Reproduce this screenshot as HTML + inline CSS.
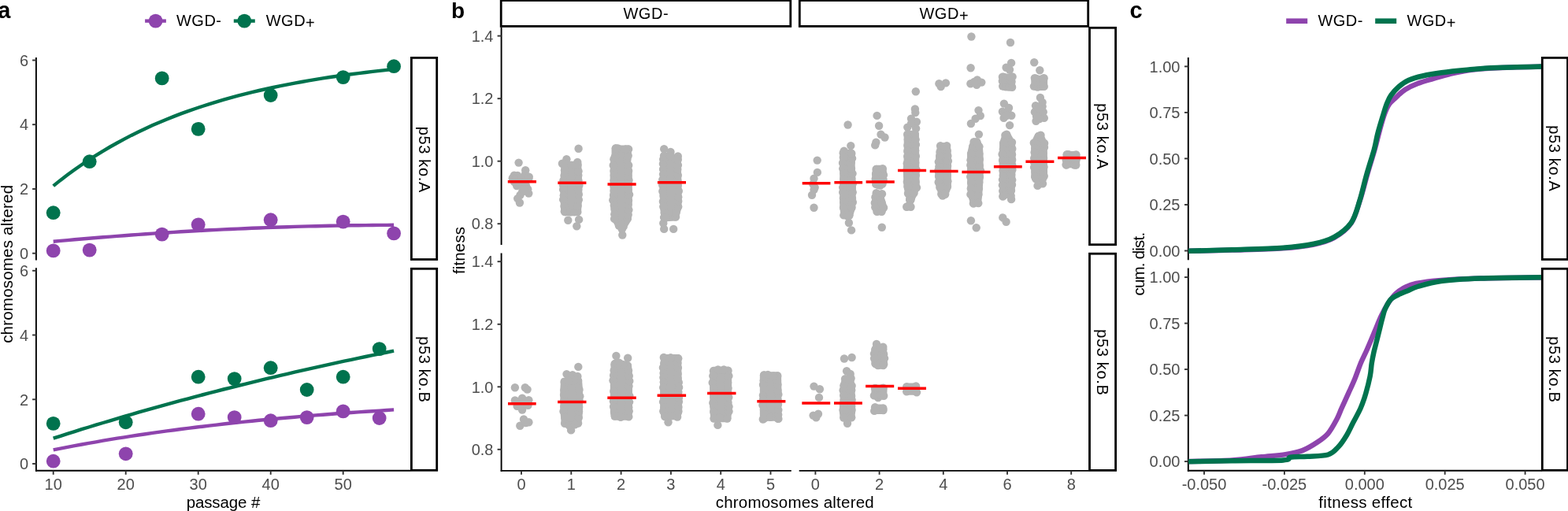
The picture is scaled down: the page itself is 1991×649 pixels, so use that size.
<!DOCTYPE html>
<html><head><meta charset="utf-8"><title>figure</title>
<style>html,body{margin:0;padding:0;background:#fff;overflow:hidden}svg{display:block}text{font-family:'Liberation Sans', Arial, sans-serif}</style>
</head><body>
<svg width="1991" height="649" viewBox="0 0 1991 649">
<rect width="1991" height="649" fill="#fff"/>
<text x="-2.8" y="22.8" font-size="29" text-anchor="start" fill="#000" font-weight="bold">a</text>
<text x="573" y="22.6" font-size="28" text-anchor="start" fill="#000" font-weight="bold">b</text>
<text x="1434.5" y="22.8" font-size="29" text-anchor="start" fill="#000" font-weight="bold">c</text>
<line x1="184.1" y1="26.6" x2="210.9" y2="26.6" stroke="#8E44AD" stroke-width="4.4" stroke-linecap="butt"/>
<circle cx="197.6" cy="26.6" r="8.9" fill="#8E44AD"/>
<text x="224" y="33.3" font-size="20" text-anchor="start" fill="#000" textLength="57.0" lengthAdjust="spacing">WGD-</text>
<line x1="296.8" y1="26.6" x2="323.8" y2="26.6" stroke="#00734E" stroke-width="4.4" stroke-linecap="butt"/>
<circle cx="310.3" cy="26.6" r="8.9" fill="#00734E"/>
<text x="337.7" y="33.3" font-size="20" text-anchor="start" fill="#000" textLength="62.1" lengthAdjust="spacing">WGD<tspan dy="2.6">+</tspan></text>
<line x1="45.9" y1="72.9" x2="45.9" y2="330.6" stroke="#000" stroke-width="1.9" stroke-linecap="butt"/>
<line x1="45.9" y1="340.2" x2="45.9" y2="598.8" stroke="#000" stroke-width="1.9" stroke-linecap="butt"/>
<line x1="45" y1="597.8" x2="521.1" y2="597.8" stroke="#000" stroke-width="1.9" stroke-linecap="butt"/>
<line x1="41.1" y1="321.7" x2="45.9" y2="321.7" stroke="#333333" stroke-width="1.9" stroke-linecap="butt"/>
<text x="36" y="328.9" font-size="20" text-anchor="end" fill="#4D4D4D">0</text>
<line x1="41.1" y1="589" x2="45.9" y2="589" stroke="#333333" stroke-width="1.9" stroke-linecap="butt"/>
<text x="36" y="596.2" font-size="20" text-anchor="end" fill="#4D4D4D">0</text>
<line x1="41.1" y1="240" x2="45.9" y2="240" stroke="#333333" stroke-width="1.9" stroke-linecap="butt"/>
<text x="36" y="247.2" font-size="20" text-anchor="end" fill="#4D4D4D">2</text>
<line x1="41.1" y1="507.3" x2="45.9" y2="507.3" stroke="#333333" stroke-width="1.9" stroke-linecap="butt"/>
<text x="36" y="514.5" font-size="20" text-anchor="end" fill="#4D4D4D">2</text>
<line x1="41.1" y1="158.2" x2="45.9" y2="158.2" stroke="#333333" stroke-width="1.9" stroke-linecap="butt"/>
<text x="36" y="165.4" font-size="20" text-anchor="end" fill="#4D4D4D">4</text>
<line x1="41.1" y1="425.5" x2="45.9" y2="425.5" stroke="#333333" stroke-width="1.9" stroke-linecap="butt"/>
<text x="36" y="432.7" font-size="20" text-anchor="end" fill="#4D4D4D">4</text>
<line x1="41.1" y1="76.5" x2="45.9" y2="76.5" stroke="#333333" stroke-width="1.9" stroke-linecap="butt"/>
<text x="36" y="83.7" font-size="20" text-anchor="end" fill="#4D4D4D">6</text>
<line x1="41.1" y1="343.8" x2="45.9" y2="343.8" stroke="#333333" stroke-width="1.9" stroke-linecap="butt"/>
<text x="36" y="351" font-size="20" text-anchor="end" fill="#4D4D4D">6</text>
<line x1="67.7" y1="597.8" x2="67.7" y2="602.8" stroke="#333333" stroke-width="1.9" stroke-linecap="butt"/>
<text x="67.7" y="621.6" font-size="20" text-anchor="middle" fill="#4D4D4D">10</text>
<line x1="159.7" y1="597.8" x2="159.7" y2="602.8" stroke="#333333" stroke-width="1.9" stroke-linecap="butt"/>
<text x="159.7" y="621.6" font-size="20" text-anchor="middle" fill="#4D4D4D">20</text>
<line x1="251.7" y1="597.8" x2="251.7" y2="602.8" stroke="#333333" stroke-width="1.9" stroke-linecap="butt"/>
<text x="251.7" y="621.6" font-size="20" text-anchor="middle" fill="#4D4D4D">30</text>
<line x1="343.7" y1="597.8" x2="343.7" y2="602.8" stroke="#333333" stroke-width="1.9" stroke-linecap="butt"/>
<text x="343.7" y="621.6" font-size="20" text-anchor="middle" fill="#4D4D4D">40</text>
<line x1="435.7" y1="597.8" x2="435.7" y2="602.8" stroke="#333333" stroke-width="1.9" stroke-linecap="butt"/>
<text x="435.7" y="621.6" font-size="20" text-anchor="middle" fill="#4D4D4D">50</text>
<text x="283.5" y="644.5" font-size="20.5" text-anchor="middle" fill="#000" textLength="93.6" lengthAdjust="spacing">passage #</text>
<text x="16" y="335.4" font-size="20.5" text-anchor="middle" fill="#000" textLength="200.9" lengthAdjust="spacing" transform="rotate(-90 16 335.4)">chromosomes altered</text>
<rect x="522.4" y="73.4" width="32.3" height="256.1" fill="#fff" stroke="#000" stroke-width="2.8"/>
<rect x="522.4" y="341.3" width="32.3" height="256" fill="#fff" stroke="#000" stroke-width="2.8"/>
<text x="531.5" y="202.5" font-size="20" text-anchor="middle" fill="#000" textLength="83.6" lengthAdjust="spacing" transform="rotate(90 531.5 202.5)">p53 ko.A</text>
<text x="531.5" y="469" font-size="20" text-anchor="middle" fill="#000" textLength="83.6" lengthAdjust="spacing" transform="rotate(90 531.5 469)">p53 ko.B</text>
<path d="M67.7 306.8 L76.7 305.9 L85.7 305.1 L94.7 304.3 L103.7 303.5 L112.7 302.8 L121.8 302 L130.8 301.3 L139.8 300.6 L148.8 299.9 L157.8 299.2 L166.8 298.5 L175.8 297.9 L184.8 297.2 L193.8 296.6 L202.8 296 L211.8 295.5 L220.8 294.9 L229.8 294.3 L238.9 293.8 L247.9 293.3 L256.9 292.8 L265.9 292.3 L274.9 291.9 L283.9 291.4 L292.9 291 L301.9 290.6 L310.9 290.2 L319.9 289.8 L328.9 289.5 L337.9 289.1 L347 288.8 L356 288.5 L365 288.2 L374 287.9 L383 287.6 L392 287.4 L401 287.2 L410 287 L419 286.8 L428 286.6 L437 286.5 L446 286.3 L455.1 286.2 L464.1 286.1 L473.1 286 L482.1 285.9 L491.1 285.9 L500.1 285.8" fill="none" stroke="#8E44AD" stroke-width="4.4" stroke-linecap="butt" stroke-linejoin="round"/>
<path d="M67.7 236.1 L76.7 228.9 L85.7 222.1 L94.7 215.5 L103.7 209.2 L112.7 203.1 L121.8 197.4 L130.8 191.8 L139.8 186.5 L148.8 181.5 L157.8 176.6 L166.8 171.9 L175.8 167.5 L184.8 163.2 L193.8 159.1 L202.8 155.2 L211.8 151.5 L220.8 147.9 L229.8 144.4 L238.9 141.1 L247.9 138 L256.9 135 L265.9 132.1 L274.9 129.3 L283.9 126.7 L292.9 124.1 L301.9 121.7 L310.9 119.4 L319.9 117.1 L328.9 115 L337.9 113 L347 111 L356 109.1 L365 107.3 L374 105.6 L383 104 L392 102.4 L401 100.9 L410 99.4 L419 98 L428 96.7 L437 95.4 L446 94.2 L455.1 93.1 L464.1 92 L473.1 90.9 L482.1 89.9 L491.1 88.9 L500.1 87.9" fill="none" stroke="#00734E" stroke-width="4.4" stroke-linecap="butt" stroke-linejoin="round"/>
<path d="M67.7 571.4 L76.7 569.6 L85.7 567.8 L94.7 566.1 L103.7 564.5 L112.7 562.8 L121.8 561.3 L130.8 559.7 L139.8 558.2 L148.8 556.7 L157.8 555.3 L166.8 553.9 L175.8 552.5 L184.8 551.2 L193.8 549.9 L202.8 548.6 L211.8 547.4 L220.8 546.2 L229.8 545 L238.9 543.9 L247.9 542.7 L256.9 541.7 L265.9 540.6 L274.9 539.6 L283.9 538.5 L292.9 537.5 L301.9 536.6 L310.9 535.6 L319.9 534.7 L328.9 533.8 L337.9 533 L347 532.1 L356 531.3 L365 530.5 L374 529.7 L383 528.9 L392 528.1 L401 527.4 L410 526.7 L419 526 L428 525.3 L437 524.7 L446 524 L455.1 523.4 L464.1 522.8 L473.1 522.2 L482.1 521.6 L491.1 521 L500.1 520.4" fill="none" stroke="#8E44AD" stroke-width="4.4" stroke-linecap="butt" stroke-linejoin="round"/>
<path d="M67.7 556.7 L76.7 553.8 L85.7 550.9 L94.7 548.1 L103.7 545.2 L112.7 542.5 L121.8 539.7 L130.8 537 L139.8 534.3 L148.8 531.6 L157.8 528.9 L166.8 526.3 L175.8 523.7 L184.8 521.2 L193.8 518.6 L202.8 516.1 L211.8 513.6 L220.8 511.1 L229.8 508.7 L238.9 506.3 L247.9 503.9 L256.9 501.5 L265.9 499.2 L274.9 496.8 L283.9 494.5 L292.9 492.3 L301.9 490 L310.9 487.8 L319.9 485.6 L328.9 483.4 L337.9 481.2 L347 479.1 L356 476.9 L365 474.8 L374 472.7 L383 470.7 L392 468.6 L401 466.6 L410 464.6 L419 462.6 L428 460.7 L437 458.7 L446 456.8 L455.1 454.9 L464.1 453 L473.1 451.2 L482.1 449.3 L491.1 447.5 L500.1 445.7" fill="none" stroke="#00734E" stroke-width="4.4" stroke-linecap="butt" stroke-linejoin="round"/>
<circle cx="67.7" cy="318.4" r="8.9" fill="#8E44AD"/>
<circle cx="113.7" cy="317.6" r="8.9" fill="#8E44AD"/>
<circle cx="205.7" cy="297.6" r="8.9" fill="#8E44AD"/>
<circle cx="251.7" cy="285.3" r="8.9" fill="#8E44AD"/>
<circle cx="343.7" cy="279.2" r="8.9" fill="#8E44AD"/>
<circle cx="435.7" cy="281.6" r="8.9" fill="#8E44AD"/>
<circle cx="500.1" cy="296.4" r="8.9" fill="#8E44AD"/>
<circle cx="67.7" cy="270.2" r="8.9" fill="#00734E"/>
<circle cx="113.7" cy="205.2" r="8.9" fill="#00734E"/>
<circle cx="205.7" cy="99.4" r="8.9" fill="#00734E"/>
<circle cx="251.7" cy="163.9" r="8.9" fill="#00734E"/>
<circle cx="343.7" cy="121" r="8.9" fill="#00734E"/>
<circle cx="435.7" cy="98.1" r="8.9" fill="#00734E"/>
<circle cx="500.1" cy="84.2" r="8.9" fill="#00734E"/>
<circle cx="67.7" cy="585.7" r="8.9" fill="#8E44AD"/>
<circle cx="159.7" cy="576.3" r="8.9" fill="#8E44AD"/>
<circle cx="251.7" cy="525.7" r="8.9" fill="#8E44AD"/>
<circle cx="297.7" cy="530.1" r="8.9" fill="#8E44AD"/>
<circle cx="343.7" cy="534.2" r="8.9" fill="#8E44AD"/>
<circle cx="389.7" cy="530.1" r="8.9" fill="#8E44AD"/>
<circle cx="435.7" cy="522.4" r="8.9" fill="#8E44AD"/>
<circle cx="481.7" cy="531" r="8.9" fill="#8E44AD"/>
<circle cx="67.7" cy="537.9" r="8.9" fill="#00734E"/>
<circle cx="159.7" cy="536.3" r="8.9" fill="#00734E"/>
<circle cx="251.7" cy="478.7" r="8.9" fill="#00734E"/>
<circle cx="297.7" cy="481.1" r="8.9" fill="#00734E"/>
<circle cx="343.7" cy="467.2" r="8.9" fill="#00734E"/>
<circle cx="389.7" cy="495" r="8.9" fill="#00734E"/>
<circle cx="435.7" cy="478.7" r="8.9" fill="#00734E"/>
<circle cx="481.7" cy="443.1" r="8.9" fill="#00734E"/>
<rect x="636.2" y="0.5" width="367.6" height="32.9" fill="#fff" stroke="#000" stroke-width="2.8"/>
<rect x="1015.3" y="0.5" width="366.4" height="32.9" fill="#fff" stroke="#000" stroke-width="2.8"/>
<text x="820" y="24.2" font-size="20" text-anchor="middle" fill="#000" textLength="57.1" lengthAdjust="spacing">WGD-</text>
<text x="1198.5" y="24.2" font-size="20" text-anchor="middle" fill="#000" textLength="62.2" lengthAdjust="spacing">WGD<tspan dy="2.6">+</tspan></text>
<rect x="1383.5" y="35.3" width="33.1" height="275.4" fill="#fff" stroke="#000" stroke-width="2.8"/>
<rect x="1383.5" y="322.2" width="33.1" height="275.2" fill="#fff" stroke="#000" stroke-width="2.8"/>
<text x="1392.5" y="173" font-size="20" text-anchor="middle" fill="#000" textLength="83.6" lengthAdjust="spacing" transform="rotate(90 1392.5 173)">p53 ko.A</text>
<text x="1392.5" y="460" font-size="20" text-anchor="middle" fill="#000" textLength="83.6" lengthAdjust="spacing" transform="rotate(90 1392.5 460)">p53 ko.B</text>
<line x1="636.6" y1="34.7" x2="636.6" y2="310.9" stroke="#000" stroke-width="1.9" stroke-linecap="butt"/>
<line x1="636.6" y1="321.4" x2="636.6" y2="598.8" stroke="#000" stroke-width="1.9" stroke-linecap="butt"/>
<line x1="635.7" y1="597.9" x2="1004.8" y2="597.9" stroke="#000" stroke-width="1.9" stroke-linecap="butt"/>
<line x1="1014.7" y1="597.9" x2="1382.3" y2="597.9" stroke="#000" stroke-width="1.9" stroke-linecap="butt"/>
<line x1="631.6" y1="284.2" x2="636.6" y2="284.2" stroke="#333333" stroke-width="1.9" stroke-linecap="butt"/>
<text x="626.5" y="291.4" font-size="20" text-anchor="end" fill="#4D4D4D">0.8</text>
<line x1="631.6" y1="570.8" x2="636.6" y2="570.8" stroke="#333333" stroke-width="1.9" stroke-linecap="butt"/>
<text x="626.5" y="578" font-size="20" text-anchor="end" fill="#4D4D4D">0.8</text>
<line x1="631.6" y1="204.7" x2="636.6" y2="204.7" stroke="#333333" stroke-width="1.9" stroke-linecap="butt"/>
<text x="626.5" y="211.9" font-size="20" text-anchor="end" fill="#4D4D4D">1.0</text>
<line x1="631.6" y1="491.3" x2="636.6" y2="491.3" stroke="#333333" stroke-width="1.9" stroke-linecap="butt"/>
<text x="626.5" y="498.5" font-size="20" text-anchor="end" fill="#4D4D4D">1.0</text>
<line x1="631.6" y1="125.2" x2="636.6" y2="125.2" stroke="#333333" stroke-width="1.9" stroke-linecap="butt"/>
<text x="626.5" y="132.4" font-size="20" text-anchor="end" fill="#4D4D4D">1.2</text>
<line x1="631.6" y1="411.8" x2="636.6" y2="411.8" stroke="#333333" stroke-width="1.9" stroke-linecap="butt"/>
<text x="626.5" y="419" font-size="20" text-anchor="end" fill="#4D4D4D">1.2</text>
<line x1="631.6" y1="45.6" x2="636.6" y2="45.6" stroke="#333333" stroke-width="1.9" stroke-linecap="butt"/>
<text x="626.5" y="52.8" font-size="20" text-anchor="end" fill="#4D4D4D">1.4</text>
<line x1="631.6" y1="332.2" x2="636.6" y2="332.2" stroke="#333333" stroke-width="1.9" stroke-linecap="butt"/>
<text x="626.5" y="339.4" font-size="20" text-anchor="end" fill="#4D4D4D">1.4</text>
<line x1="662" y1="597.9" x2="662" y2="602.8" stroke="#333333" stroke-width="1.9" stroke-linecap="butt"/>
<text x="662" y="621.6" font-size="20" text-anchor="middle" fill="#4D4D4D">0</text>
<line x1="725.3" y1="597.9" x2="725.3" y2="602.8" stroke="#333333" stroke-width="1.9" stroke-linecap="butt"/>
<text x="725.3" y="621.6" font-size="20" text-anchor="middle" fill="#4D4D4D">1</text>
<line x1="788.6" y1="597.9" x2="788.6" y2="602.8" stroke="#333333" stroke-width="1.9" stroke-linecap="butt"/>
<text x="788.6" y="621.6" font-size="20" text-anchor="middle" fill="#4D4D4D">2</text>
<line x1="851.9" y1="597.9" x2="851.9" y2="602.8" stroke="#333333" stroke-width="1.9" stroke-linecap="butt"/>
<text x="851.9" y="621.6" font-size="20" text-anchor="middle" fill="#4D4D4D">3</text>
<line x1="915.2" y1="597.9" x2="915.2" y2="602.8" stroke="#333333" stroke-width="1.9" stroke-linecap="butt"/>
<text x="915.2" y="621.6" font-size="20" text-anchor="middle" fill="#4D4D4D">4</text>
<line x1="978.5" y1="597.9" x2="978.5" y2="602.8" stroke="#333333" stroke-width="1.9" stroke-linecap="butt"/>
<text x="978.5" y="621.6" font-size="20" text-anchor="middle" fill="#4D4D4D">5</text>
<line x1="1035.4" y1="597.9" x2="1035.4" y2="602.8" stroke="#333333" stroke-width="1.9" stroke-linecap="butt"/>
<text x="1035.4" y="621.6" font-size="20" text-anchor="middle" fill="#4D4D4D">0</text>
<line x1="1116.6" y1="597.9" x2="1116.6" y2="602.8" stroke="#333333" stroke-width="1.9" stroke-linecap="butt"/>
<text x="1116.6" y="621.6" font-size="20" text-anchor="middle" fill="#4D4D4D">2</text>
<line x1="1197.8" y1="597.9" x2="1197.8" y2="602.8" stroke="#333333" stroke-width="1.9" stroke-linecap="butt"/>
<text x="1197.8" y="621.6" font-size="20" text-anchor="middle" fill="#4D4D4D">4</text>
<line x1="1279" y1="597.9" x2="1279" y2="602.8" stroke="#333333" stroke-width="1.9" stroke-linecap="butt"/>
<text x="1279" y="621.6" font-size="20" text-anchor="middle" fill="#4D4D4D">6</text>
<line x1="1360.2" y1="597.9" x2="1360.2" y2="602.8" stroke="#333333" stroke-width="1.9" stroke-linecap="butt"/>
<text x="1360.2" y="621.6" font-size="20" text-anchor="middle" fill="#4D4D4D">8</text>
<text x="1009.2" y="644.5" font-size="20.5" text-anchor="middle" fill="#000" textLength="201.0" lengthAdjust="spacing">chromosomes altered</text>
<text x="590" y="318" font-size="20.5" text-anchor="middle" fill="#000" textLength="60.2" lengthAdjust="spacing" transform="rotate(-90 590 318)">fitness</text>
<circle cx="658.6" cy="206.6" r="5.2" fill="#B3B3B3"/>
<circle cx="667.2" cy="216.3" r="5.2" fill="#B3B3B3"/>
<circle cx="652.9" cy="222.8" r="5.2" fill="#B3B3B3"/>
<circle cx="657.2" cy="223" r="5.2" fill="#B3B3B3"/>
<circle cx="666.9" cy="221.4" r="5.2" fill="#B3B3B3"/>
<circle cx="671.8" cy="224.6" r="5.2" fill="#B3B3B3"/>
<circle cx="650.8" cy="226.3" r="5.2" fill="#B3B3B3"/>
<circle cx="655.1" cy="227.3" r="5.2" fill="#B3B3B3"/>
<circle cx="661.6" cy="227.3" r="5.2" fill="#B3B3B3"/>
<circle cx="671.3" cy="227.3" r="5.2" fill="#B3B3B3"/>
<circle cx="656.2" cy="236" r="5.2" fill="#B3B3B3"/>
<circle cx="661.6" cy="234.9" r="5.2" fill="#B3B3B3"/>
<circle cx="668" cy="236" r="5.2" fill="#B3B3B3"/>
<circle cx="670.2" cy="240.3" r="5.2" fill="#B3B3B3"/>
<circle cx="671.3" cy="245.6" r="5.2" fill="#B3B3B3"/>
<circle cx="663.2" cy="243.5" r="5.2" fill="#B3B3B3"/>
<circle cx="660.5" cy="247.8" r="5.2" fill="#B3B3B3"/>
<circle cx="657.2" cy="252.1" r="5.2" fill="#B3B3B3"/>
<circle cx="659.9" cy="257.5" r="5.2" fill="#B3B3B3"/>
<circle cx="664.8" cy="242.4" r="5.2" fill="#B3B3B3"/>
<circle cx="653" cy="231" r="5.2" fill="#B3B3B3"/>
<circle cx="659" cy="231" r="5.2" fill="#B3B3B3"/>
<circle cx="666" cy="231" r="5.2" fill="#B3B3B3"/>
<line x1="644.8" y1="230.7" x2="681" y2="230.7" stroke="#FF0000" stroke-width="3.5" stroke-linecap="butt"/>
<circle cx="734.6" cy="188.7" r="5.2" fill="#B3B3B3"/>
<circle cx="719.4" cy="202.2" r="5.2" fill="#B3B3B3"/>
<circle cx="733.3" cy="205.9" r="5.2" fill="#B3B3B3"/>
<circle cx="713.9" cy="207.7" r="5.2" fill="#B3B3B3"/>
<circle cx="721.3" cy="279.8" r="5.2" fill="#B3B3B3"/>
<circle cx="735.1" cy="278.9" r="5.2" fill="#B3B3B3"/>
<circle cx="732.3" cy="287.2" r="5.2" fill="#B3B3B3"/>
<path d="M716.7 209.2 L716.7 217 L715.9 235.4 L715.9 253.9 L716.7 268.7 L717.2 269.8 L729.8 269.8 L733.6 268.7 L734.5 253.9 L735.1 235.4 L734 217 L734 209.2Z" fill="#B3B3B3" stroke="#B3B3B3" stroke-width="8.9" stroke-linejoin="round"/>
<circle cx="716.4" cy="208.6" r="5.2" fill="#B3B3B3"/>
<circle cx="717" cy="216.2" r="5.2" fill="#B3B3B3"/>
<circle cx="716.5" cy="222.9" r="5.2" fill="#B3B3B3"/>
<circle cx="715.4" cy="229.3" r="5.2" fill="#B3B3B3"/>
<circle cx="715.1" cy="235.3" r="5.2" fill="#B3B3B3"/>
<circle cx="715.1" cy="240.8" r="5.2" fill="#B3B3B3"/>
<circle cx="715.8" cy="248.3" r="5.2" fill="#B3B3B3"/>
<circle cx="715.2" cy="253.4" r="5.2" fill="#B3B3B3"/>
<circle cx="716.5" cy="262.1" r="5.2" fill="#B3B3B3"/>
<circle cx="716.8" cy="268.5" r="5.2" fill="#B3B3B3"/>
<circle cx="718.1" cy="269" r="5.2" fill="#B3B3B3"/>
<circle cx="724.1" cy="269.4" r="5.2" fill="#B3B3B3"/>
<circle cx="729.2" cy="269.1" r="5.2" fill="#B3B3B3"/>
<circle cx="733.3" cy="269.3" r="5.2" fill="#B3B3B3"/>
<circle cx="733.5" cy="261.4" r="5.2" fill="#B3B3B3"/>
<circle cx="734.8" cy="253.7" r="5.2" fill="#B3B3B3"/>
<circle cx="734.8" cy="246.9" r="5.2" fill="#B3B3B3"/>
<circle cx="734.1" cy="241" r="5.2" fill="#B3B3B3"/>
<circle cx="735.4" cy="235.3" r="5.2" fill="#B3B3B3"/>
<circle cx="734.4" cy="229.4" r="5.2" fill="#B3B3B3"/>
<circle cx="734.3" cy="222.8" r="5.2" fill="#B3B3B3"/>
<circle cx="734.5" cy="217.4" r="5.2" fill="#B3B3B3"/>
<circle cx="733.5" cy="209.3" r="5.2" fill="#B3B3B3"/>
<circle cx="725.4" cy="209.9" r="5.2" fill="#B3B3B3"/>
<line x1="708.3" y1="232.3" x2="744.4" y2="232.3" stroke="#FF0000" stroke-width="3.5" stroke-linecap="butt"/>
<path d="M784.2 188.9 L781 189 L781 198.5 L780 202.2 L779.1 217 L779.1 253.9 L781 278 L786.5 287.2 L789.2 285.8 L789.8 285.8 L791.8 287.2 L797.4 278 L798.3 253.9 L798.3 217 L796.4 202.2 L797.4 198.5 L797.4 189 L793.8 188.9Z" fill="#B3B3B3" stroke="#B3B3B3" stroke-width="8.9" stroke-linejoin="round"/>
<circle cx="784.6" cy="188.5" r="5.2" fill="#B3B3B3"/>
<circle cx="781.9" cy="188.3" r="5.2" fill="#B3B3B3"/>
<circle cx="780.9" cy="199" r="5.2" fill="#B3B3B3"/>
<circle cx="779.4" cy="202.2" r="5.2" fill="#B3B3B3"/>
<circle cx="778.7" cy="209.9" r="5.2" fill="#B3B3B3"/>
<circle cx="779.6" cy="217.1" r="5.2" fill="#B3B3B3"/>
<circle cx="779.8" cy="222.8" r="5.2" fill="#B3B3B3"/>
<circle cx="779.5" cy="229.5" r="5.2" fill="#B3B3B3"/>
<circle cx="779.2" cy="235.4" r="5.2" fill="#B3B3B3"/>
<circle cx="779.7" cy="242.4" r="5.2" fill="#B3B3B3"/>
<circle cx="779.1" cy="248" r="5.2" fill="#B3B3B3"/>
<circle cx="778.3" cy="254.3" r="5.2" fill="#B3B3B3"/>
<circle cx="779.8" cy="260.8" r="5.2" fill="#B3B3B3"/>
<circle cx="780.6" cy="265.6" r="5.2" fill="#B3B3B3"/>
<circle cx="780.3" cy="272.3" r="5.2" fill="#B3B3B3"/>
<circle cx="780.1" cy="277.9" r="5.2" fill="#B3B3B3"/>
<circle cx="785.9" cy="286.5" r="5.2" fill="#B3B3B3"/>
<circle cx="788.4" cy="286.3" r="5.2" fill="#B3B3B3"/>
<circle cx="789.1" cy="285.3" r="5.2" fill="#B3B3B3"/>
<circle cx="791.6" cy="287.9" r="5.2" fill="#B3B3B3"/>
<circle cx="796.6" cy="277.9" r="5.2" fill="#B3B3B3"/>
<circle cx="797.7" cy="272.7" r="5.2" fill="#B3B3B3"/>
<circle cx="798.4" cy="266.6" r="5.2" fill="#B3B3B3"/>
<circle cx="797.7" cy="259.8" r="5.2" fill="#B3B3B3"/>
<circle cx="798" cy="254.6" r="5.2" fill="#B3B3B3"/>
<circle cx="799.1" cy="247.1" r="5.2" fill="#B3B3B3"/>
<circle cx="797.7" cy="241.1" r="5.2" fill="#B3B3B3"/>
<circle cx="797.8" cy="235.4" r="5.2" fill="#B3B3B3"/>
<circle cx="798.5" cy="228.9" r="5.2" fill="#B3B3B3"/>
<circle cx="797.4" cy="223" r="5.2" fill="#B3B3B3"/>
<circle cx="798.1" cy="217.1" r="5.2" fill="#B3B3B3"/>
<circle cx="798.2" cy="209.9" r="5.2" fill="#B3B3B3"/>
<circle cx="796.4" cy="202.4" r="5.2" fill="#B3B3B3"/>
<circle cx="797.7" cy="197.7" r="5.2" fill="#B3B3B3"/>
<circle cx="798.1" cy="189.5" r="5.2" fill="#B3B3B3"/>
<circle cx="794.5" cy="189.4" r="5.2" fill="#B3B3B3"/>
<circle cx="790.3" cy="298.5" r="5.2" fill="#B3B3B3"/>
<circle cx="789.8" cy="291" r="5.2" fill="#B3B3B3"/>
<line x1="771.5" y1="234.1" x2="807.7" y2="234.1" stroke="#FF0000" stroke-width="3.5" stroke-linecap="butt"/>
<circle cx="843.2" cy="189.2" r="5.2" fill="#B3B3B3"/>
<circle cx="851.5" cy="192.9" r="5.2" fill="#B3B3B3"/>
<circle cx="860.8" cy="198.5" r="5.2" fill="#B3B3B3"/>
<circle cx="843.2" cy="290.9" r="5.2" fill="#B3B3B3"/>
<circle cx="855.2" cy="290.9" r="5.2" fill="#B3B3B3"/>
<circle cx="842.3" cy="283.5" r="5.2" fill="#B3B3B3"/>
<path d="M843.2 198.2 L842.9 202.2 L842 235.4 L842.5 263.2 L843.8 276.1 L843.8 276.8 L845.8 276.8 L857.4 276.1 L861.1 263.2 L861.1 235.4 L860.2 202.2 L850.8 198.2Z" fill="#B3B3B3" stroke="#B3B3B3" stroke-width="8.9" stroke-linejoin="round"/>
<circle cx="843" cy="198" r="5.2" fill="#B3B3B3"/>
<circle cx="842.2" cy="202.4" r="5.2" fill="#B3B3B3"/>
<circle cx="841.9" cy="208.1" r="5.2" fill="#B3B3B3"/>
<circle cx="842" cy="214.9" r="5.2" fill="#B3B3B3"/>
<circle cx="842.1" cy="221.3" r="5.2" fill="#B3B3B3"/>
<circle cx="841.3" cy="228.1" r="5.2" fill="#B3B3B3"/>
<circle cx="841.3" cy="235.2" r="5.2" fill="#B3B3B3"/>
<circle cx="841.3" cy="243" r="5.2" fill="#B3B3B3"/>
<circle cx="842.5" cy="248.7" r="5.2" fill="#B3B3B3"/>
<circle cx="841.9" cy="256" r="5.2" fill="#B3B3B3"/>
<circle cx="842.3" cy="262.5" r="5.2" fill="#B3B3B3"/>
<circle cx="843.8" cy="270.5" r="5.2" fill="#B3B3B3"/>
<circle cx="843.7" cy="276.1" r="5.2" fill="#B3B3B3"/>
<circle cx="843.1" cy="276.1" r="5.2" fill="#B3B3B3"/>
<circle cx="845.5" cy="276.4" r="5.2" fill="#B3B3B3"/>
<circle cx="858" cy="275.5" r="5.2" fill="#B3B3B3"/>
<circle cx="858.4" cy="270.5" r="5.2" fill="#B3B3B3"/>
<circle cx="861.2" cy="262.6" r="5.2" fill="#B3B3B3"/>
<circle cx="861.2" cy="255.4" r="5.2" fill="#B3B3B3"/>
<circle cx="861.2" cy="250.2" r="5.2" fill="#B3B3B3"/>
<circle cx="861.8" cy="242.7" r="5.2" fill="#B3B3B3"/>
<circle cx="860.7" cy="235.2" r="5.2" fill="#B3B3B3"/>
<circle cx="860.3" cy="229.2" r="5.2" fill="#B3B3B3"/>
<circle cx="860.8" cy="222.6" r="5.2" fill="#B3B3B3"/>
<circle cx="860.3" cy="215" r="5.2" fill="#B3B3B3"/>
<circle cx="860.9" cy="209.7" r="5.2" fill="#B3B3B3"/>
<circle cx="860.8" cy="202.8" r="5.2" fill="#B3B3B3"/>
<circle cx="851.4" cy="198.6" r="5.2" fill="#B3B3B3"/>
<line x1="834.9" y1="231.7" x2="871" y2="231.7" stroke="#FF0000" stroke-width="3.5" stroke-linecap="butt"/>
<circle cx="1037.7" cy="203.6" r="5.2" fill="#B3B3B3"/>
<circle cx="1037.9" cy="218.9" r="5.2" fill="#B3B3B3"/>
<circle cx="1033.5" cy="226.8" r="5.2" fill="#B3B3B3"/>
<circle cx="1034.7" cy="238.1" r="5.2" fill="#B3B3B3"/>
<circle cx="1033.5" cy="241.1" r="5.2" fill="#B3B3B3"/>
<circle cx="1031" cy="247.7" r="5.2" fill="#B3B3B3"/>
<circle cx="1033.5" cy="263.8" r="5.2" fill="#B3B3B3"/>
<circle cx="1032.3" cy="233.7" r="5.2" fill="#B3B3B3"/>
<line x1="1018.7" y1="232.7" x2="1054.4" y2="232.7" stroke="#FF0000" stroke-width="3.5" stroke-linecap="butt"/>
<circle cx="1076.6" cy="158.5" r="5.2" fill="#B3B3B3"/>
<circle cx="1080.3" cy="185.1" r="5.2" fill="#B3B3B3"/>
<circle cx="1071.7" cy="191.8" r="5.2" fill="#B3B3B3"/>
<circle cx="1077.9" cy="283" r="5.2" fill="#B3B3B3"/>
<circle cx="1081.1" cy="292.4" r="5.2" fill="#B3B3B3"/>
<path d="M1071.2 194.2 L1070.7 214 L1070.7 238.6 L1070.7 263.3 L1072 273.1 L1075.2 273.8 L1077.8 273.8 L1078.8 273.1 L1081.8 263.3 L1082.5 238.6 L1081.3 214 L1081.3 194.2Z" fill="#B3B3B3" stroke="#B3B3B3" stroke-width="8.9" stroke-linejoin="round"/>
<circle cx="1070.7" cy="194.2" r="5.2" fill="#B3B3B3"/>
<circle cx="1070.8" cy="200" r="5.2" fill="#B3B3B3"/>
<circle cx="1070" cy="207" r="5.2" fill="#B3B3B3"/>
<circle cx="1070.3" cy="214.3" r="5.2" fill="#B3B3B3"/>
<circle cx="1071.5" cy="220.1" r="5.2" fill="#B3B3B3"/>
<circle cx="1071.5" cy="227.2" r="5.2" fill="#B3B3B3"/>
<circle cx="1071.5" cy="232.2" r="5.2" fill="#B3B3B3"/>
<circle cx="1070.2" cy="238.1" r="5.2" fill="#B3B3B3"/>
<circle cx="1070.2" cy="244.2" r="5.2" fill="#B3B3B3"/>
<circle cx="1070.9" cy="251.7" r="5.2" fill="#B3B3B3"/>
<circle cx="1071.3" cy="257.1" r="5.2" fill="#B3B3B3"/>
<circle cx="1071" cy="263.8" r="5.2" fill="#B3B3B3"/>
<circle cx="1071.3" cy="273.4" r="5.2" fill="#B3B3B3"/>
<circle cx="1075.9" cy="274.3" r="5.2" fill="#B3B3B3"/>
<circle cx="1078.3" cy="273.8" r="5.2" fill="#B3B3B3"/>
<circle cx="1078.2" cy="273.6" r="5.2" fill="#B3B3B3"/>
<circle cx="1081.5" cy="263.8" r="5.2" fill="#B3B3B3"/>
<circle cx="1082.8" cy="256.9" r="5.2" fill="#B3B3B3"/>
<circle cx="1082" cy="251.8" r="5.2" fill="#B3B3B3"/>
<circle cx="1082.7" cy="244.2" r="5.2" fill="#B3B3B3"/>
<circle cx="1081.8" cy="238" r="5.2" fill="#B3B3B3"/>
<circle cx="1082.9" cy="233" r="5.2" fill="#B3B3B3"/>
<circle cx="1081.3" cy="226.9" r="5.2" fill="#B3B3B3"/>
<circle cx="1082.5" cy="220.4" r="5.2" fill="#B3B3B3"/>
<circle cx="1081" cy="214.1" r="5.2" fill="#B3B3B3"/>
<circle cx="1080.6" cy="206.5" r="5.2" fill="#B3B3B3"/>
<circle cx="1082.1" cy="201.1" r="5.2" fill="#B3B3B3"/>
<circle cx="1081.3" cy="195" r="5.2" fill="#B3B3B3"/>
<line x1="1059.4" y1="231.7" x2="1095.1" y2="231.7" stroke="#FF0000" stroke-width="3.5" stroke-linecap="butt"/>
<circle cx="1113.6" cy="146.9" r="5.2" fill="#B3B3B3"/>
<circle cx="1116.1" cy="159.7" r="5.2" fill="#B3B3B3"/>
<circle cx="1118.5" cy="170.8" r="5.2" fill="#B3B3B3"/>
<circle cx="1123.5" cy="174.5" r="5.2" fill="#B3B3B3"/>
<circle cx="1112.4" cy="180.7" r="5.2" fill="#B3B3B3"/>
<circle cx="1111.2" cy="184.4" r="5.2" fill="#B3B3B3"/>
<circle cx="1119.8" cy="288.7" r="5.2" fill="#B3B3B3"/>
<path d="M1112.7 214.2 L1111.5 221.4 L1112.7 233.7 L1115.2 234.8 L1118.3 234.8 L1120.8 233.7 L1122 221.4 L1120.8 214.2Z" fill="#B3B3B3" stroke="#B3B3B3" stroke-width="8.9" stroke-linejoin="round"/>
<circle cx="1112.6" cy="214.9" r="5.2" fill="#B3B3B3"/>
<circle cx="1112.1" cy="220.9" r="5.2" fill="#B3B3B3"/>
<circle cx="1111.7" cy="227.2" r="5.2" fill="#B3B3B3"/>
<circle cx="1112.2" cy="233.9" r="5.2" fill="#B3B3B3"/>
<circle cx="1114.8" cy="234.7" r="5.2" fill="#B3B3B3"/>
<circle cx="1117.6" cy="235.5" r="5.2" fill="#B3B3B3"/>
<circle cx="1120.5" cy="233.6" r="5.2" fill="#B3B3B3"/>
<circle cx="1121.6" cy="228.3" r="5.2" fill="#B3B3B3"/>
<circle cx="1121.9" cy="222.2" r="5.2" fill="#B3B3B3"/>
<circle cx="1120.8" cy="214.3" r="5.2" fill="#B3B3B3"/>
<path d="M1112.7 246.2 L1111.5 251 L1111.9 263.3 L1113.2 268.8 L1119.8 268.8 L1122 263.3 L1118.3 251 L1119.5 246.2Z" fill="#B3B3B3" stroke="#B3B3B3" stroke-width="8.9" stroke-linejoin="round"/>
<circle cx="1112.7" cy="245.3" r="5.2" fill="#B3B3B3"/>
<circle cx="1111.4" cy="250.4" r="5.2" fill="#B3B3B3"/>
<circle cx="1110.8" cy="257.7" r="5.2" fill="#B3B3B3"/>
<circle cx="1111.3" cy="263.3" r="5.2" fill="#B3B3B3"/>
<circle cx="1113.6" cy="268.9" r="5.2" fill="#B3B3B3"/>
<circle cx="1119.5" cy="268.8" r="5.2" fill="#B3B3B3"/>
<circle cx="1122.1" cy="263.8" r="5.2" fill="#B3B3B3"/>
<circle cx="1119.4" cy="257.3" r="5.2" fill="#B3B3B3"/>
<circle cx="1117.8" cy="250.6" r="5.2" fill="#B3B3B3"/>
<circle cx="1120" cy="246.2" r="5.2" fill="#B3B3B3"/>
<line x1="1099.6" y1="231" x2="1135.8" y2="231" stroke="#FF0000" stroke-width="3.5" stroke-linecap="butt"/>
<circle cx="1162.8" cy="116.2" r="5.2" fill="#B3B3B3"/>
<circle cx="1161.9" cy="138.5" r="5.2" fill="#B3B3B3"/>
<circle cx="1162.3" cy="143.1" r="5.2" fill="#B3B3B3"/>
<circle cx="1157" cy="150.8" r="5.2" fill="#B3B3B3"/>
<circle cx="1163.9" cy="154.7" r="5.2" fill="#B3B3B3"/>
<circle cx="1152.3" cy="161.6" r="5.2" fill="#B3B3B3"/>
<circle cx="1163.1" cy="163.2" r="5.2" fill="#B3B3B3"/>
<circle cx="1157" cy="157" r="5.2" fill="#B3B3B3"/>
<path d="M1152.1 170.2 L1152.2 184.7 L1152.3 198.5 L1151.2 215.4 L1152 237.5 L1153.7 245.9 L1156.2 254.4 L1156 252.8 L1156 252.8 L1156.3 254.4 L1160.2 245.9 L1163.3 237.5 L1162.8 215.4 L1162.8 198.5 L1162.5 184.7 L1162.5 170.2Z" fill="#B3B3B3" stroke="#B3B3B3" stroke-width="8.9" stroke-linejoin="round"/>
<circle cx="1152.2" cy="170.7" r="5.2" fill="#B3B3B3"/>
<circle cx="1152.9" cy="177.3" r="5.2" fill="#B3B3B3"/>
<circle cx="1152.4" cy="184.7" r="5.2" fill="#B3B3B3"/>
<circle cx="1152.3" cy="191.9" r="5.2" fill="#B3B3B3"/>
<circle cx="1152.2" cy="198.6" r="5.2" fill="#B3B3B3"/>
<circle cx="1151.7" cy="207.7" r="5.2" fill="#B3B3B3"/>
<circle cx="1151.6" cy="216.1" r="5.2" fill="#B3B3B3"/>
<circle cx="1152.3" cy="222.3" r="5.2" fill="#B3B3B3"/>
<circle cx="1151.8" cy="230.9" r="5.2" fill="#B3B3B3"/>
<circle cx="1152.6" cy="236.8" r="5.2" fill="#B3B3B3"/>
<circle cx="1153" cy="245.8" r="5.2" fill="#B3B3B3"/>
<circle cx="1155.4" cy="253.9" r="5.2" fill="#B3B3B3"/>
<circle cx="1155.2" cy="253.1" r="5.2" fill="#B3B3B3"/>
<circle cx="1156.5" cy="253.5" r="5.2" fill="#B3B3B3"/>
<circle cx="1155.7" cy="254.8" r="5.2" fill="#B3B3B3"/>
<circle cx="1160.5" cy="245.3" r="5.2" fill="#B3B3B3"/>
<circle cx="1164" cy="238.3" r="5.2" fill="#B3B3B3"/>
<circle cx="1162.6" cy="230.9" r="5.2" fill="#B3B3B3"/>
<circle cx="1162.8" cy="222.7" r="5.2" fill="#B3B3B3"/>
<circle cx="1163.7" cy="216" r="5.2" fill="#B3B3B3"/>
<circle cx="1162.2" cy="206.8" r="5.2" fill="#B3B3B3"/>
<circle cx="1162.8" cy="198.2" r="5.2" fill="#B3B3B3"/>
<circle cx="1162.1" cy="191.3" r="5.2" fill="#B3B3B3"/>
<circle cx="1162.9" cy="183.8" r="5.2" fill="#B3B3B3"/>
<circle cx="1162.6" cy="177.3" r="5.2" fill="#B3B3B3"/>
<circle cx="1161.6" cy="169.9" r="5.2" fill="#B3B3B3"/>
<path d="M1152 262.2 L1152 261.9 L1156 261.9 L1156 262.2Z" fill="#B3B3B3" stroke="#B3B3B3" stroke-width="8.9" stroke-linejoin="round"/>
<circle cx="1152.2" cy="262.2" r="5.2" fill="#B3B3B3"/>
<circle cx="1151.2" cy="262.8" r="5.2" fill="#B3B3B3"/>
<circle cx="1156.5" cy="262.7" r="5.2" fill="#B3B3B3"/>
<circle cx="1155.3" cy="261.8" r="5.2" fill="#B3B3B3"/>
<line x1="1140" y1="216.6" x2="1176.1" y2="216.6" stroke="#FF0000" stroke-width="3.5" stroke-linecap="butt"/>
<circle cx="1192.4" cy="106.2" r="5.2" fill="#B3B3B3"/>
<circle cx="1200.9" cy="105.4" r="5.2" fill="#B3B3B3"/>
<circle cx="1194.7" cy="110" r="5.2" fill="#B3B3B3"/>
<path d="M1197.2 186.2 L1194.5 186 L1192.7 198.5 L1191.8 223.9 L1193.2 237.5 L1196 245.9 L1197.7 247.8 L1197.8 247.8 L1200.1 245.9 L1203.4 237.5 L1203.4 223.9 L1203.4 198.5 L1202.6 186 L1198.8 186.2Z" fill="#B3B3B3" stroke="#B3B3B3" stroke-width="8.9" stroke-linejoin="round"/>
<circle cx="1196.4" cy="186.7" r="5.2" fill="#B3B3B3"/>
<circle cx="1194.1" cy="185.3" r="5.2" fill="#B3B3B3"/>
<circle cx="1193.5" cy="193" r="5.2" fill="#B3B3B3"/>
<circle cx="1193.3" cy="198.1" r="5.2" fill="#B3B3B3"/>
<circle cx="1191.8" cy="205.6" r="5.2" fill="#B3B3B3"/>
<circle cx="1192.4" cy="211.6" r="5.2" fill="#B3B3B3"/>
<circle cx="1191.3" cy="216.8" r="5.2" fill="#B3B3B3"/>
<circle cx="1192.1" cy="223.8" r="5.2" fill="#B3B3B3"/>
<circle cx="1191.7" cy="231.5" r="5.2" fill="#B3B3B3"/>
<circle cx="1193.4" cy="238" r="5.2" fill="#B3B3B3"/>
<circle cx="1195.3" cy="246.5" r="5.2" fill="#B3B3B3"/>
<circle cx="1196.9" cy="248.5" r="5.2" fill="#B3B3B3"/>
<circle cx="1197.7" cy="247.5" r="5.2" fill="#B3B3B3"/>
<circle cx="1200.2" cy="246.7" r="5.2" fill="#B3B3B3"/>
<circle cx="1203" cy="236.8" r="5.2" fill="#B3B3B3"/>
<circle cx="1203.4" cy="230.2" r="5.2" fill="#B3B3B3"/>
<circle cx="1202.7" cy="223.3" r="5.2" fill="#B3B3B3"/>
<circle cx="1202.6" cy="217" r="5.2" fill="#B3B3B3"/>
<circle cx="1203.1" cy="210.8" r="5.2" fill="#B3B3B3"/>
<circle cx="1203.9" cy="204.5" r="5.2" fill="#B3B3B3"/>
<circle cx="1203.4" cy="197.9" r="5.2" fill="#B3B3B3"/>
<circle cx="1202.7" cy="191.4" r="5.2" fill="#B3B3B3"/>
<circle cx="1202.2" cy="185.1" r="5.2" fill="#B3B3B3"/>
<circle cx="1199.2" cy="186.3" r="5.2" fill="#B3B3B3"/>
<line x1="1180.7" y1="217.5" x2="1216.6" y2="217.5" stroke="#FF0000" stroke-width="3.5" stroke-linecap="butt"/>
<circle cx="1233.4" cy="46.5" r="5.2" fill="#B3B3B3"/>
<circle cx="1232.6" cy="86.3" r="5.2" fill="#B3B3B3"/>
<circle cx="1232.4" cy="106.2" r="5.2" fill="#B3B3B3"/>
<circle cx="1240.2" cy="107.7" r="5.2" fill="#B3B3B3"/>
<circle cx="1246.3" cy="104.6" r="5.2" fill="#B3B3B3"/>
<circle cx="1240.9" cy="101.5" r="5.2" fill="#B3B3B3"/>
<circle cx="1242.5" cy="140.1" r="5.2" fill="#B3B3B3"/>
<circle cx="1244.8" cy="147" r="5.2" fill="#B3B3B3"/>
<circle cx="1238.6" cy="150.8" r="5.2" fill="#B3B3B3"/>
<circle cx="1232.9" cy="157" r="5.2" fill="#B3B3B3"/>
<circle cx="1242.9" cy="170.6" r="5.2" fill="#B3B3B3"/>
<circle cx="1232.9" cy="280.2" r="5.2" fill="#B3B3B3"/>
<circle cx="1239.7" cy="289.2" r="5.2" fill="#B3B3B3"/>
<circle cx="1237" cy="104" r="5.2" fill="#B3B3B3"/>
<path d="M1237.2 180.2 L1234.6 186.3 L1232.5 195.5 L1232.5 223.9 L1233.2 247.6 L1236.7 257.8 L1237 257.8 L1237 257.8 L1241.6 257.8 L1242.8 247.6 L1244.3 223.9 L1244.1 195.5 L1243.4 186.3 L1240.8 180.2Z" fill="#B3B3B3" stroke="#B3B3B3" stroke-width="8.9" stroke-linejoin="round"/>
<circle cx="1236.6" cy="180.2" r="5.2" fill="#B3B3B3"/>
<circle cx="1235.4" cy="185.6" r="5.2" fill="#B3B3B3"/>
<circle cx="1233.1" cy="195.4" r="5.2" fill="#B3B3B3"/>
<circle cx="1232.5" cy="203.2" r="5.2" fill="#B3B3B3"/>
<circle cx="1232.3" cy="209.7" r="5.2" fill="#B3B3B3"/>
<circle cx="1232.8" cy="217.7" r="5.2" fill="#B3B3B3"/>
<circle cx="1232.2" cy="224.5" r="5.2" fill="#B3B3B3"/>
<circle cx="1233.1" cy="232" r="5.2" fill="#B3B3B3"/>
<circle cx="1232.8" cy="239.4" r="5.2" fill="#B3B3B3"/>
<circle cx="1232.4" cy="246.9" r="5.2" fill="#B3B3B3"/>
<circle cx="1235.9" cy="258.2" r="5.2" fill="#B3B3B3"/>
<circle cx="1236.6" cy="257.2" r="5.2" fill="#B3B3B3"/>
<circle cx="1236.3" cy="258.4" r="5.2" fill="#B3B3B3"/>
<circle cx="1242.3" cy="258.1" r="5.2" fill="#B3B3B3"/>
<circle cx="1242.4" cy="247.1" r="5.2" fill="#B3B3B3"/>
<circle cx="1242.9" cy="239.6" r="5.2" fill="#B3B3B3"/>
<circle cx="1243.2" cy="231.7" r="5.2" fill="#B3B3B3"/>
<circle cx="1243.9" cy="224.7" r="5.2" fill="#B3B3B3"/>
<circle cx="1245.1" cy="216.9" r="5.2" fill="#B3B3B3"/>
<circle cx="1243.7" cy="210.5" r="5.2" fill="#B3B3B3"/>
<circle cx="1243.8" cy="202.3" r="5.2" fill="#B3B3B3"/>
<circle cx="1243.2" cy="195.3" r="5.2" fill="#B3B3B3"/>
<circle cx="1243.4" cy="186.3" r="5.2" fill="#B3B3B3"/>
<circle cx="1240.3" cy="180.2" r="5.2" fill="#B3B3B3"/>
<line x1="1221.4" y1="218.5" x2="1257.5" y2="218.5" stroke="#FF0000" stroke-width="3.5" stroke-linecap="butt"/>
<circle cx="1283" cy="54" r="5.2" fill="#B3B3B3"/>
<circle cx="1284.1" cy="79.9" r="5.2" fill="#B3B3B3"/>
<circle cx="1277.6" cy="85.7" r="5.2" fill="#B3B3B3"/>
<circle cx="1282" cy="88.5" r="5.2" fill="#B3B3B3"/>
<circle cx="1274.9" cy="131.6" r="5.2" fill="#B3B3B3"/>
<circle cx="1281" cy="137" r="5.2" fill="#B3B3B3"/>
<circle cx="1272.9" cy="141.8" r="5.2" fill="#B3B3B3"/>
<circle cx="1279.4" cy="142.3" r="5.2" fill="#B3B3B3"/>
<circle cx="1284.3" cy="146.7" r="5.2" fill="#B3B3B3"/>
<circle cx="1274.6" cy="149.9" r="5.2" fill="#B3B3B3"/>
<circle cx="1282.1" cy="159.1" r="5.2" fill="#B3B3B3"/>
<circle cx="1278.3" cy="146.7" r="5.2" fill="#B3B3B3"/>
<circle cx="1273.3" cy="276.4" r="5.2" fill="#B3B3B3"/>
<circle cx="1277.6" cy="281.8" r="5.2" fill="#B3B3B3"/>
<circle cx="1273.3" cy="249.5" r="5.2" fill="#B3B3B3"/>
<circle cx="1284.1" cy="253.1" r="5.2" fill="#B3B3B3"/>
<path d="M1275.2 98 L1273.6 98 L1273.6 110 L1277.2 110.3 L1280.8 110.3 L1284.7 110 L1284.7 98 L1282.8 98Z" fill="#B3B3B3" stroke="#B3B3B3" stroke-width="8.9" stroke-linejoin="round"/>
<circle cx="1274.3" cy="97.6" r="5.2" fill="#B3B3B3"/>
<circle cx="1272.9" cy="97.8" r="5.2" fill="#B3B3B3"/>
<circle cx="1272.8" cy="103.1" r="5.2" fill="#B3B3B3"/>
<circle cx="1273.2" cy="109.5" r="5.2" fill="#B3B3B3"/>
<circle cx="1277.4" cy="110.4" r="5.2" fill="#B3B3B3"/>
<circle cx="1281.3" cy="110.6" r="5.2" fill="#B3B3B3"/>
<circle cx="1285.1" cy="110.7" r="5.2" fill="#B3B3B3"/>
<circle cx="1284.5" cy="103.7" r="5.2" fill="#B3B3B3"/>
<circle cx="1285.6" cy="97.4" r="5.2" fill="#B3B3B3"/>
<circle cx="1283.2" cy="98.3" r="5.2" fill="#B3B3B3"/>
<path d="M1277.2 171.2 L1273.6 181.6 L1273.1 203.1 L1273.6 235.5 L1274.2 248.4 L1276.2 246.8 L1280.8 246.8 L1283.2 248.4 L1284.7 235.5 L1285.2 203.1 L1284.7 181.6 L1278.8 171.2Z" fill="#B3B3B3" stroke="#B3B3B3" stroke-width="8.9" stroke-linejoin="round"/>
<circle cx="1276.4" cy="171.8" r="5.2" fill="#B3B3B3"/>
<circle cx="1274.3" cy="181.8" r="5.2" fill="#B3B3B3"/>
<circle cx="1273.9" cy="189.3" r="5.2" fill="#B3B3B3"/>
<circle cx="1272.6" cy="196" r="5.2" fill="#B3B3B3"/>
<circle cx="1273.1" cy="203.7" r="5.2" fill="#B3B3B3"/>
<circle cx="1273.7" cy="210.2" r="5.2" fill="#B3B3B3"/>
<circle cx="1273.5" cy="216.8" r="5.2" fill="#B3B3B3"/>
<circle cx="1273.7" cy="222.9" r="5.2" fill="#B3B3B3"/>
<circle cx="1273" cy="228.2" r="5.2" fill="#B3B3B3"/>
<circle cx="1272.9" cy="235.2" r="5.2" fill="#B3B3B3"/>
<circle cx="1273.2" cy="242.6" r="5.2" fill="#B3B3B3"/>
<circle cx="1274.3" cy="248.6" r="5.2" fill="#B3B3B3"/>
<circle cx="1276.4" cy="247.1" r="5.2" fill="#B3B3B3"/>
<circle cx="1280.8" cy="245.9" r="5.2" fill="#B3B3B3"/>
<circle cx="1283.7" cy="248.8" r="5.2" fill="#B3B3B3"/>
<circle cx="1284" cy="242" r="5.2" fill="#B3B3B3"/>
<circle cx="1285" cy="234.7" r="5.2" fill="#B3B3B3"/>
<circle cx="1285.2" cy="228.6" r="5.2" fill="#B3B3B3"/>
<circle cx="1284.1" cy="222.1" r="5.2" fill="#B3B3B3"/>
<circle cx="1285.4" cy="215.5" r="5.2" fill="#B3B3B3"/>
<circle cx="1285.5" cy="210.4" r="5.2" fill="#B3B3B3"/>
<circle cx="1285.2" cy="202.9" r="5.2" fill="#B3B3B3"/>
<circle cx="1285" cy="196.3" r="5.2" fill="#B3B3B3"/>
<circle cx="1285.3" cy="189" r="5.2" fill="#B3B3B3"/>
<circle cx="1285" cy="180.8" r="5.2" fill="#B3B3B3"/>
<circle cx="1278.2" cy="170.8" r="5.2" fill="#B3B3B3"/>
<line x1="1261.9" y1="211.7" x2="1297.7" y2="211.7" stroke="#FF0000" stroke-width="3.5" stroke-linecap="butt"/>
<circle cx="1313.2" cy="79.2" r="5.2" fill="#B3B3B3"/>
<circle cx="1320.3" cy="89.2" r="5.2" fill="#B3B3B3"/>
<circle cx="1320.9" cy="124" r="5.2" fill="#B3B3B3"/>
<circle cx="1323.6" cy="130" r="5.2" fill="#B3B3B3"/>
<circle cx="1315" cy="134.3" r="5.2" fill="#B3B3B3"/>
<circle cx="1323.6" cy="135.3" r="5.2" fill="#B3B3B3"/>
<circle cx="1313.9" cy="142.3" r="5.2" fill="#B3B3B3"/>
<circle cx="1320.4" cy="142.3" r="5.2" fill="#B3B3B3"/>
<circle cx="1324.7" cy="142.3" r="5.2" fill="#B3B3B3"/>
<circle cx="1325.8" cy="149.9" r="5.2" fill="#B3B3B3"/>
<circle cx="1315.5" cy="153.7" r="5.2" fill="#B3B3B3"/>
<circle cx="1319.8" cy="151" r="5.2" fill="#B3B3B3"/>
<circle cx="1316" cy="147.7" r="5.2" fill="#B3B3B3"/>
<circle cx="1319" cy="137" r="5.2" fill="#B3B3B3"/>
<circle cx="1317.5" cy="235.9" r="5.2" fill="#B3B3B3"/>
<circle cx="1324" cy="233.3" r="5.2" fill="#B3B3B3"/>
<path d="M1315.2 100.2 L1313.7 100 L1313.7 110 L1317.2 110.3 L1321.8 110.3 L1325.7 110 L1325.7 100 L1323.8 100.2Z" fill="#B3B3B3" stroke="#B3B3B3" stroke-width="8.9" stroke-linejoin="round"/>
<circle cx="1315.6" cy="99.8" r="5.2" fill="#B3B3B3"/>
<circle cx="1313.8" cy="99.1" r="5.2" fill="#B3B3B3"/>
<circle cx="1312.9" cy="109.6" r="5.2" fill="#B3B3B3"/>
<circle cx="1317.5" cy="110.6" r="5.2" fill="#B3B3B3"/>
<circle cx="1322.1" cy="109.9" r="5.2" fill="#B3B3B3"/>
<circle cx="1325.7" cy="109.9" r="5.2" fill="#B3B3B3"/>
<circle cx="1325.6" cy="99.3" r="5.2" fill="#B3B3B3"/>
<circle cx="1324.5" cy="99.7" r="5.2" fill="#B3B3B3"/>
<path d="M1318.2 172.2 L1313.7 181.6 L1313.7 224.7 L1314.7 226.8 L1324.3 226.8 L1325.7 224.7 L1325.3 181.6 L1320.8 172.2Z" fill="#B3B3B3" stroke="#B3B3B3" stroke-width="8.9" stroke-linejoin="round"/>
<circle cx="1319.1" cy="173" r="5.2" fill="#B3B3B3"/>
<circle cx="1312.8" cy="181.5" r="5.2" fill="#B3B3B3"/>
<circle cx="1314.3" cy="188.6" r="5.2" fill="#B3B3B3"/>
<circle cx="1313.6" cy="193.5" r="5.2" fill="#B3B3B3"/>
<circle cx="1313.2" cy="200.9" r="5.2" fill="#B3B3B3"/>
<circle cx="1313.2" cy="206.4" r="5.2" fill="#B3B3B3"/>
<circle cx="1313.1" cy="212.4" r="5.2" fill="#B3B3B3"/>
<circle cx="1314.5" cy="217.9" r="5.2" fill="#B3B3B3"/>
<circle cx="1314.3" cy="224.7" r="5.2" fill="#B3B3B3"/>
<circle cx="1315.4" cy="227.2" r="5.2" fill="#B3B3B3"/>
<circle cx="1323.8" cy="227.5" r="5.2" fill="#B3B3B3"/>
<circle cx="1325.7" cy="223.8" r="5.2" fill="#B3B3B3"/>
<circle cx="1324.7" cy="218.5" r="5.2" fill="#B3B3B3"/>
<circle cx="1325.5" cy="212" r="5.2" fill="#B3B3B3"/>
<circle cx="1324.9" cy="205.9" r="5.2" fill="#B3B3B3"/>
<circle cx="1325.1" cy="200.7" r="5.2" fill="#B3B3B3"/>
<circle cx="1324.5" cy="194.4" r="5.2" fill="#B3B3B3"/>
<circle cx="1326" cy="187.1" r="5.2" fill="#B3B3B3"/>
<circle cx="1326.1" cy="182" r="5.2" fill="#B3B3B3"/>
<circle cx="1321.5" cy="171.8" r="5.2" fill="#B3B3B3"/>
<line x1="1302.4" y1="205.3" x2="1338.4" y2="205.3" stroke="#FF0000" stroke-width="3.5" stroke-linecap="butt"/>
<path d="M1357.2 196.5 L1354 196 L1354 210 L1355.2 208.7 L1364.8 208.7 L1366.7 210 L1366.7 196 L1362.8 196.5Z" fill="#B3B3B3" stroke="#B3B3B3" stroke-width="8.9" stroke-linejoin="round"/>
<circle cx="1357" cy="196.3" r="5.2" fill="#B3B3B3"/>
<circle cx="1354.9" cy="196.2" r="5.2" fill="#B3B3B3"/>
<circle cx="1353.7" cy="202.9" r="5.2" fill="#B3B3B3"/>
<circle cx="1353.6" cy="209.2" r="5.2" fill="#B3B3B3"/>
<circle cx="1354.5" cy="209.3" r="5.2" fill="#B3B3B3"/>
<circle cx="1364.4" cy="209.5" r="5.2" fill="#B3B3B3"/>
<circle cx="1366.2" cy="209.6" r="5.2" fill="#B3B3B3"/>
<circle cx="1366.7" cy="202.4" r="5.2" fill="#B3B3B3"/>
<circle cx="1366.5" cy="196.8" r="5.2" fill="#B3B3B3"/>
<circle cx="1363.5" cy="197.1" r="5.2" fill="#B3B3B3"/>
<line x1="1343" y1="200.5" x2="1379" y2="200.5" stroke="#FF0000" stroke-width="3.5" stroke-linecap="butt"/>
<circle cx="653.9" cy="492.2" r="5.2" fill="#B3B3B3"/>
<circle cx="666.8" cy="492.2" r="5.2" fill="#B3B3B3"/>
<circle cx="669.6" cy="494.6" r="5.2" fill="#B3B3B3"/>
<circle cx="653.9" cy="508.4" r="5.2" fill="#B3B3B3"/>
<circle cx="663.1" cy="505.7" r="5.2" fill="#B3B3B3"/>
<circle cx="671.4" cy="508.1" r="5.2" fill="#B3B3B3"/>
<circle cx="656.6" cy="515.8" r="5.2" fill="#B3B3B3"/>
<circle cx="663.1" cy="520.5" r="5.2" fill="#B3B3B3"/>
<circle cx="670.5" cy="514.9" r="5.2" fill="#B3B3B3"/>
<circle cx="660.3" cy="540.8" r="5.2" fill="#B3B3B3"/>
<circle cx="665" cy="532.5" r="5.2" fill="#B3B3B3"/>
<circle cx="671.4" cy="536.2" r="5.2" fill="#B3B3B3"/>
<circle cx="667.7" cy="537.1" r="5.2" fill="#B3B3B3"/>
<circle cx="658" cy="510" r="5.2" fill="#B3B3B3"/>
<circle cx="666" cy="512" r="5.2" fill="#B3B3B3"/>
<circle cx="660" cy="516" r="5.2" fill="#B3B3B3"/>
<line x1="645" y1="512.7" x2="680.7" y2="512.7" stroke="#FF0000" stroke-width="3.5" stroke-linecap="butt"/>
<circle cx="734.3" cy="465.9" r="5.2" fill="#B3B3B3"/>
<circle cx="719.5" cy="475.1" r="5.2" fill="#B3B3B3"/>
<circle cx="727" cy="476.1" r="5.2" fill="#B3B3B3"/>
<circle cx="733.4" cy="477.9" r="5.2" fill="#B3B3B3"/>
<circle cx="725.1" cy="546.4" r="5.2" fill="#B3B3B3"/>
<path d="M716.4 484.2 L715.7 495.5 L715.9 523.2 L717.2 538 L722.9 539.8 L729.1 539.8 L733.8 538 L735.6 523.2 L735.6 495.5 L734.7 484.2Z" fill="#B3B3B3" stroke="#B3B3B3" stroke-width="8.9" stroke-linejoin="round"/>
<circle cx="716.6" cy="484.9" r="5.2" fill="#B3B3B3"/>
<circle cx="716.5" cy="495.6" r="5.2" fill="#B3B3B3"/>
<circle cx="716.1" cy="501.6" r="5.2" fill="#B3B3B3"/>
<circle cx="716.2" cy="509.3" r="5.2" fill="#B3B3B3"/>
<circle cx="716.3" cy="516.5" r="5.2" fill="#B3B3B3"/>
<circle cx="715.5" cy="522.4" r="5.2" fill="#B3B3B3"/>
<circle cx="717.3" cy="529.9" r="5.2" fill="#B3B3B3"/>
<circle cx="717.1" cy="537.7" r="5.2" fill="#B3B3B3"/>
<circle cx="722.5" cy="540.2" r="5.2" fill="#B3B3B3"/>
<circle cx="730" cy="539.4" r="5.2" fill="#B3B3B3"/>
<circle cx="734.1" cy="537.6" r="5.2" fill="#B3B3B3"/>
<circle cx="734.8" cy="530.4" r="5.2" fill="#B3B3B3"/>
<circle cx="735" cy="522.6" r="5.2" fill="#B3B3B3"/>
<circle cx="735.1" cy="517" r="5.2" fill="#B3B3B3"/>
<circle cx="735.6" cy="508.8" r="5.2" fill="#B3B3B3"/>
<circle cx="736.3" cy="503.3" r="5.2" fill="#B3B3B3"/>
<circle cx="735.5" cy="494.9" r="5.2" fill="#B3B3B3"/>
<circle cx="734.1" cy="483.5" r="5.2" fill="#B3B3B3"/>
<circle cx="728.3" cy="483.5" r="5.2" fill="#B3B3B3"/>
<circle cx="722" cy="483.8" r="5.2" fill="#B3B3B3"/>
<line x1="708.1" y1="510.5" x2="744.5" y2="510.5" stroke="#FF0000" stroke-width="3.5" stroke-linecap="butt"/>
<circle cx="782.4" cy="452" r="5.2" fill="#B3B3B3"/>
<circle cx="797.2" cy="454.8" r="5.2" fill="#B3B3B3"/>
<circle cx="780.6" cy="462.2" r="5.2" fill="#B3B3B3"/>
<path d="M781.2 461.2 L780.2 464 L779.3 477 L779.3 523.2 L780.2 529.3 L797.6 529.3 L798.5 523.2 L798.5 477 L797.6 464 L785.8 461.2Z" fill="#B3B3B3" stroke="#B3B3B3" stroke-width="8.9" stroke-linejoin="round"/>
<circle cx="781.3" cy="461.9" r="5.2" fill="#B3B3B3"/>
<circle cx="780.6" cy="463.8" r="5.2" fill="#B3B3B3"/>
<circle cx="779.6" cy="470.5" r="5.2" fill="#B3B3B3"/>
<circle cx="779.1" cy="476.7" r="5.2" fill="#B3B3B3"/>
<circle cx="778.5" cy="483.2" r="5.2" fill="#B3B3B3"/>
<circle cx="780.1" cy="489.5" r="5.2" fill="#B3B3B3"/>
<circle cx="779.3" cy="497" r="5.2" fill="#B3B3B3"/>
<circle cx="780" cy="502.9" r="5.2" fill="#B3B3B3"/>
<circle cx="778.9" cy="509.5" r="5.2" fill="#B3B3B3"/>
<circle cx="779.1" cy="516.5" r="5.2" fill="#B3B3B3"/>
<circle cx="780.1" cy="523.8" r="5.2" fill="#B3B3B3"/>
<circle cx="780.9" cy="528.4" r="5.2" fill="#B3B3B3"/>
<circle cx="788.1" cy="529.7" r="5.2" fill="#B3B3B3"/>
<circle cx="798.3" cy="529.3" r="5.2" fill="#B3B3B3"/>
<circle cx="798.7" cy="522.3" r="5.2" fill="#B3B3B3"/>
<circle cx="798.3" cy="517.4" r="5.2" fill="#B3B3B3"/>
<circle cx="799.1" cy="510.6" r="5.2" fill="#B3B3B3"/>
<circle cx="799.4" cy="502.9" r="5.2" fill="#B3B3B3"/>
<circle cx="797.8" cy="496.2" r="5.2" fill="#B3B3B3"/>
<circle cx="798.5" cy="490.5" r="5.2" fill="#B3B3B3"/>
<circle cx="799.3" cy="484" r="5.2" fill="#B3B3B3"/>
<circle cx="798.8" cy="477.5" r="5.2" fill="#B3B3B3"/>
<circle cx="798" cy="470.6" r="5.2" fill="#B3B3B3"/>
<circle cx="796.8" cy="464.5" r="5.2" fill="#B3B3B3"/>
<circle cx="791.2" cy="463.4" r="5.2" fill="#B3B3B3"/>
<circle cx="786.1" cy="460.8" r="5.2" fill="#B3B3B3"/>
<line x1="771.3" y1="505.3" x2="807.8" y2="505.3" stroke="#FF0000" stroke-width="3.5" stroke-linecap="butt"/>
<circle cx="848.5" cy="536.2" r="5.2" fill="#B3B3B3"/>
<path d="M843.5 454.4 L842.6 467.7 L842.6 523.2 L844.2 528.8 L859.8 528.8 L861.8 523.2 L860.9 467.7 L860.9 454.4Z" fill="#B3B3B3" stroke="#B3B3B3" stroke-width="8.9" stroke-linejoin="round"/>
<circle cx="842.8" cy="454" r="5.2" fill="#B3B3B3"/>
<circle cx="843.3" cy="461.4" r="5.2" fill="#B3B3B3"/>
<circle cx="841.9" cy="466.9" r="5.2" fill="#B3B3B3"/>
<circle cx="842.6" cy="474" r="5.2" fill="#B3B3B3"/>
<circle cx="842.4" cy="479.5" r="5.2" fill="#B3B3B3"/>
<circle cx="842.8" cy="485.3" r="5.2" fill="#B3B3B3"/>
<circle cx="842.2" cy="492.3" r="5.2" fill="#B3B3B3"/>
<circle cx="843.4" cy="498.8" r="5.2" fill="#B3B3B3"/>
<circle cx="843.3" cy="504.7" r="5.2" fill="#B3B3B3"/>
<circle cx="842.1" cy="510.4" r="5.2" fill="#B3B3B3"/>
<circle cx="843.4" cy="517.4" r="5.2" fill="#B3B3B3"/>
<circle cx="842.3" cy="522.3" r="5.2" fill="#B3B3B3"/>
<circle cx="844.2" cy="529.1" r="5.2" fill="#B3B3B3"/>
<circle cx="851.9" cy="528.4" r="5.2" fill="#B3B3B3"/>
<circle cx="860.1" cy="529.6" r="5.2" fill="#B3B3B3"/>
<circle cx="861.3" cy="522.4" r="5.2" fill="#B3B3B3"/>
<circle cx="861.4" cy="516.9" r="5.2" fill="#B3B3B3"/>
<circle cx="861.9" cy="510.3" r="5.2" fill="#B3B3B3"/>
<circle cx="862" cy="505.1" r="5.2" fill="#B3B3B3"/>
<circle cx="861.4" cy="498" r="5.2" fill="#B3B3B3"/>
<circle cx="862.1" cy="492" r="5.2" fill="#B3B3B3"/>
<circle cx="861.8" cy="485.7" r="5.2" fill="#B3B3B3"/>
<circle cx="860.6" cy="480.5" r="5.2" fill="#B3B3B3"/>
<circle cx="860.6" cy="474.7" r="5.2" fill="#B3B3B3"/>
<circle cx="860.9" cy="467.1" r="5.2" fill="#B3B3B3"/>
<circle cx="860.4" cy="460.9" r="5.2" fill="#B3B3B3"/>
<circle cx="861.2" cy="455.2" r="5.2" fill="#B3B3B3"/>
<circle cx="851.6" cy="454.2" r="5.2" fill="#B3B3B3"/>
<line x1="834.6" y1="502.3" x2="871.1" y2="502.3" stroke="#FF0000" stroke-width="3.5" stroke-linecap="butt"/>
<circle cx="911.4" cy="539.9" r="5.2" fill="#B3B3B3"/>
<path d="M906.4 470.2 L905.5 486.2 L906 523.2 L906.7 531.8 L923.8 531.8 L924.7 523.2 L924.7 486.2 L924.7 470.2Z" fill="#B3B3B3" stroke="#B3B3B3" stroke-width="8.9" stroke-linejoin="round"/>
<circle cx="905.9" cy="471.1" r="5.2" fill="#B3B3B3"/>
<circle cx="905.3" cy="477.4" r="5.2" fill="#B3B3B3"/>
<circle cx="904.7" cy="486" r="5.2" fill="#B3B3B3"/>
<circle cx="906.3" cy="493.1" r="5.2" fill="#B3B3B3"/>
<circle cx="906.1" cy="499.4" r="5.2" fill="#B3B3B3"/>
<circle cx="906.5" cy="504.4" r="5.2" fill="#B3B3B3"/>
<circle cx="905.3" cy="511.7" r="5.2" fill="#B3B3B3"/>
<circle cx="906.4" cy="516.2" r="5.2" fill="#B3B3B3"/>
<circle cx="906.3" cy="523" r="5.2" fill="#B3B3B3"/>
<circle cx="906.5" cy="531.5" r="5.2" fill="#B3B3B3"/>
<circle cx="914.7" cy="530.9" r="5.2" fill="#B3B3B3"/>
<circle cx="923.4" cy="531.5" r="5.2" fill="#B3B3B3"/>
<circle cx="925.5" cy="522.5" r="5.2" fill="#B3B3B3"/>
<circle cx="925.5" cy="516.5" r="5.2" fill="#B3B3B3"/>
<circle cx="924.4" cy="511.4" r="5.2" fill="#B3B3B3"/>
<circle cx="925.3" cy="504.6" r="5.2" fill="#B3B3B3"/>
<circle cx="923.9" cy="498.5" r="5.2" fill="#B3B3B3"/>
<circle cx="924.5" cy="493.1" r="5.2" fill="#B3B3B3"/>
<circle cx="924.1" cy="486" r="5.2" fill="#B3B3B3"/>
<circle cx="925.4" cy="477.4" r="5.2" fill="#B3B3B3"/>
<circle cx="924.5" cy="470.8" r="5.2" fill="#B3B3B3"/>
<circle cx="919.1" cy="469.4" r="5.2" fill="#B3B3B3"/>
<circle cx="911.7" cy="469.4" r="5.2" fill="#B3B3B3"/>
<line x1="898.1" y1="499.6" x2="934.5" y2="499.6" stroke="#FF0000" stroke-width="3.5" stroke-linecap="butt"/>
<path d="M969.3 476.6 L969.3 495.5 L969.3 532.5 L970.2 530.3 L986.8 530.3 L987.6 532.5 L988 495.5 L987.6 476.6Z" fill="#B3B3B3" stroke="#B3B3B3" stroke-width="8.9" stroke-linejoin="round"/>
<circle cx="970.1" cy="476.2" r="5.2" fill="#B3B3B3"/>
<circle cx="969.7" cy="483.6" r="5.2" fill="#B3B3B3"/>
<circle cx="969" cy="488.8" r="5.2" fill="#B3B3B3"/>
<circle cx="970.1" cy="495.7" r="5.2" fill="#B3B3B3"/>
<circle cx="968.9" cy="502.1" r="5.2" fill="#B3B3B3"/>
<circle cx="969" cy="507.4" r="5.2" fill="#B3B3B3"/>
<circle cx="968.4" cy="514.5" r="5.2" fill="#B3B3B3"/>
<circle cx="970" cy="520.4" r="5.2" fill="#B3B3B3"/>
<circle cx="970.1" cy="525.5" r="5.2" fill="#B3B3B3"/>
<circle cx="968.8" cy="532.5" r="5.2" fill="#B3B3B3"/>
<circle cx="971" cy="531.1" r="5.2" fill="#B3B3B3"/>
<circle cx="978.3" cy="529.9" r="5.2" fill="#B3B3B3"/>
<circle cx="986.7" cy="530.3" r="5.2" fill="#B3B3B3"/>
<circle cx="988.4" cy="531.9" r="5.2" fill="#B3B3B3"/>
<circle cx="988.2" cy="526.8" r="5.2" fill="#B3B3B3"/>
<circle cx="988.3" cy="520.7" r="5.2" fill="#B3B3B3"/>
<circle cx="988" cy="513.7" r="5.2" fill="#B3B3B3"/>
<circle cx="987.5" cy="507.6" r="5.2" fill="#B3B3B3"/>
<circle cx="988.4" cy="500.9" r="5.2" fill="#B3B3B3"/>
<circle cx="987.5" cy="496" r="5.2" fill="#B3B3B3"/>
<circle cx="987.4" cy="488.4" r="5.2" fill="#B3B3B3"/>
<circle cx="986.9" cy="483" r="5.2" fill="#B3B3B3"/>
<circle cx="987.3" cy="477.5" r="5.2" fill="#B3B3B3"/>
<circle cx="982.2" cy="477.5" r="5.2" fill="#B3B3B3"/>
<circle cx="975" cy="475.9" r="5.2" fill="#B3B3B3"/>
<line x1="961.3" y1="509.7" x2="997.4" y2="509.7" stroke="#FF0000" stroke-width="3.5" stroke-linecap="butt"/>
<circle cx="1033.5" cy="490.6" r="5.2" fill="#B3B3B3"/>
<circle cx="1040.9" cy="494.3" r="5.2" fill="#B3B3B3"/>
<circle cx="1040" cy="504.9" r="5.2" fill="#B3B3B3"/>
<circle cx="1032.6" cy="527.6" r="5.2" fill="#B3B3B3"/>
<circle cx="1039" cy="525.8" r="5.2" fill="#B3B3B3"/>
<circle cx="1036.3" cy="530.4" r="5.2" fill="#B3B3B3"/>
<line x1="1018.3" y1="511.9" x2="1054.2" y2="511.9" stroke="#FF0000" stroke-width="3.5" stroke-linecap="butt"/>
<circle cx="1072" cy="455.5" r="5.2" fill="#B3B3B3"/>
<circle cx="1081.6" cy="454" r="5.2" fill="#B3B3B3"/>
<circle cx="1075.1" cy="471.2" r="5.2" fill="#B3B3B3"/>
<circle cx="1079.7" cy="474.9" r="5.2" fill="#B3B3B3"/>
<circle cx="1076" cy="537.8" r="5.2" fill="#B3B3B3"/>
<path d="M1073.8 481.2 L1071.1 489.7 L1071.1 508.2 L1070.1 521.2 L1071.2 530.8 L1080.8 530.8 L1081.9 521.2 L1081.5 508.2 L1081 489.7 L1079.7 481.2Z" fill="#B3B3B3" stroke="#B3B3B3" stroke-width="8.9" stroke-linejoin="round"/>
<circle cx="1073.1" cy="481.2" r="5.2" fill="#B3B3B3"/>
<circle cx="1071.5" cy="489.6" r="5.2" fill="#B3B3B3"/>
<circle cx="1070.6" cy="495.7" r="5.2" fill="#B3B3B3"/>
<circle cx="1071.3" cy="502.3" r="5.2" fill="#B3B3B3"/>
<circle cx="1071.5" cy="508.8" r="5.2" fill="#B3B3B3"/>
<circle cx="1070.9" cy="514" r="5.2" fill="#B3B3B3"/>
<circle cx="1070.7" cy="520.8" r="5.2" fill="#B3B3B3"/>
<circle cx="1071.3" cy="530.6" r="5.2" fill="#B3B3B3"/>
<circle cx="1081.2" cy="530.3" r="5.2" fill="#B3B3B3"/>
<circle cx="1081.4" cy="520.7" r="5.2" fill="#B3B3B3"/>
<circle cx="1081.1" cy="515.4" r="5.2" fill="#B3B3B3"/>
<circle cx="1081.6" cy="507.9" r="5.2" fill="#B3B3B3"/>
<circle cx="1081.1" cy="502.9" r="5.2" fill="#B3B3B3"/>
<circle cx="1081.2" cy="495.4" r="5.2" fill="#B3B3B3"/>
<circle cx="1081.6" cy="490" r="5.2" fill="#B3B3B3"/>
<circle cx="1080.6" cy="480.5" r="5.2" fill="#B3B3B3"/>
<line x1="1059" y1="511.9" x2="1094.9" y2="511.9" stroke="#FF0000" stroke-width="3.5" stroke-linecap="butt"/>
<circle cx="1113" cy="437" r="5.2" fill="#B3B3B3"/>
<circle cx="1121.3" cy="440.7" r="5.2" fill="#B3B3B3"/>
<circle cx="1115" cy="505" r="5.2" fill="#B3B3B3"/>
<path d="M1112.2 442.2 L1110.8 443.5 L1110.8 462 L1114.2 464.2 L1120.8 464.2 L1122.6 462 L1121.7 443.5 L1118.8 442.2Z" fill="#B3B3B3" stroke="#B3B3B3" stroke-width="8.9" stroke-linejoin="round"/>
<circle cx="1112.2" cy="442.8" r="5.2" fill="#B3B3B3"/>
<circle cx="1111.4" cy="444.2" r="5.2" fill="#B3B3B3"/>
<circle cx="1110" cy="449.3" r="5.2" fill="#B3B3B3"/>
<circle cx="1110.1" cy="455.3" r="5.2" fill="#B3B3B3"/>
<circle cx="1111.7" cy="462.1" r="5.2" fill="#B3B3B3"/>
<circle cx="1115" cy="464" r="5.2" fill="#B3B3B3"/>
<circle cx="1121.5" cy="464.1" r="5.2" fill="#B3B3B3"/>
<circle cx="1122.2" cy="462.5" r="5.2" fill="#B3B3B3"/>
<circle cx="1123.1" cy="455.1" r="5.2" fill="#B3B3B3"/>
<circle cx="1122.2" cy="449.9" r="5.2" fill="#B3B3B3"/>
<circle cx="1121.2" cy="443.3" r="5.2" fill="#B3B3B3"/>
<circle cx="1118.2" cy="441.7" r="5.2" fill="#B3B3B3"/>
<path d="M1112.2 493.2 L1110.8 493.4 L1110.8 502.7 L1113.2 502.8 L1118.8 502.8 L1121.7 502.7 L1122.2 493.4 L1120.8 493.2Z" fill="#B3B3B3" stroke="#B3B3B3" stroke-width="8.9" stroke-linejoin="round"/>
<circle cx="1111.8" cy="493.4" r="5.2" fill="#B3B3B3"/>
<circle cx="1111.1" cy="492.9" r="5.2" fill="#B3B3B3"/>
<circle cx="1109.9" cy="502.4" r="5.2" fill="#B3B3B3"/>
<circle cx="1113.5" cy="502.2" r="5.2" fill="#B3B3B3"/>
<circle cx="1118.5" cy="502.3" r="5.2" fill="#B3B3B3"/>
<circle cx="1122.2" cy="502.8" r="5.2" fill="#B3B3B3"/>
<circle cx="1121.4" cy="492.7" r="5.2" fill="#B3B3B3"/>
<circle cx="1120.6" cy="493.3" r="5.2" fill="#B3B3B3"/>
<path d="M1110.8 518 L1110.8 521.5 L1121.7 521.5 L1121.7 518Z" fill="#B3B3B3" stroke="#B3B3B3" stroke-width="8.9" stroke-linejoin="round"/>
<circle cx="1111.1" cy="517.3" r="5.2" fill="#B3B3B3"/>
<circle cx="1110.2" cy="521.9" r="5.2" fill="#B3B3B3"/>
<circle cx="1121.5" cy="521.1" r="5.2" fill="#B3B3B3"/>
<circle cx="1121.4" cy="518.8" r="5.2" fill="#B3B3B3"/>
<line x1="1099.1" y1="490.6" x2="1135.2" y2="490.6" stroke="#FF0000" stroke-width="3.5" stroke-linecap="butt"/>
<path d="M1151.5 491 L1151.5 497.4 L1163.3 497.4 L1163.3 491Z" fill="#B3B3B3" stroke="#B3B3B3" stroke-width="8.9" stroke-linejoin="round"/>
<circle cx="1151.2" cy="491.1" r="5.2" fill="#B3B3B3"/>
<circle cx="1151.2" cy="497.2" r="5.2" fill="#B3B3B3"/>
<circle cx="1164" cy="498.3" r="5.2" fill="#B3B3B3"/>
<circle cx="1163.1" cy="490.5" r="5.2" fill="#B3B3B3"/>
<line x1="1140" y1="493.3" x2="1176" y2="493.3" stroke="#FF0000" stroke-width="3.5" stroke-linecap="butt"/>
<line x1="1633.2" y1="26.7" x2="1660.2" y2="26.7" stroke="#8E44AD" stroke-width="6.6" stroke-linecap="butt"/>
<text x="1673.4" y="33.3" font-size="20" text-anchor="start" fill="#000" textLength="57.0" lengthAdjust="spacing">WGD-</text>
<line x1="1746.2" y1="26.7" x2="1773.2" y2="26.7" stroke="#00734E" stroke-width="6.6" stroke-linecap="butt"/>
<text x="1786.4" y="33.3" font-size="20" text-anchor="start" fill="#000" textLength="62.1" lengthAdjust="spacing">WGD<tspan dy="2.6">+</tspan></text>
<line x1="1508.8" y1="72.9" x2="1508.8" y2="330.3" stroke="#000" stroke-width="1.9" stroke-linecap="butt"/>
<line x1="1508.8" y1="340.5" x2="1508.8" y2="598.8" stroke="#000" stroke-width="1.9" stroke-linecap="butt"/>
<line x1="1507.9" y1="597.8" x2="1957.5" y2="597.8" stroke="#000" stroke-width="1.9" stroke-linecap="butt"/>
<line x1="1504" y1="318.5" x2="1508.8" y2="318.5" stroke="#333333" stroke-width="1.9" stroke-linecap="butt"/>
<text x="1498.5" y="325.7" font-size="20" text-anchor="end" fill="#4D4D4D">0.00</text>
<line x1="1504" y1="586.1" x2="1508.8" y2="586.1" stroke="#333333" stroke-width="1.9" stroke-linecap="butt"/>
<text x="1498.5" y="593.3" font-size="20" text-anchor="end" fill="#4D4D4D">0.00</text>
<line x1="1504" y1="260" x2="1508.8" y2="260" stroke="#333333" stroke-width="1.9" stroke-linecap="butt"/>
<text x="1498.5" y="267.2" font-size="20" text-anchor="end" fill="#4D4D4D">0.25</text>
<line x1="1504" y1="527.6" x2="1508.8" y2="527.6" stroke="#333333" stroke-width="1.9" stroke-linecap="butt"/>
<text x="1498.5" y="534.8" font-size="20" text-anchor="end" fill="#4D4D4D">0.25</text>
<line x1="1504" y1="201.4" x2="1508.8" y2="201.4" stroke="#333333" stroke-width="1.9" stroke-linecap="butt"/>
<text x="1498.5" y="208.6" font-size="20" text-anchor="end" fill="#4D4D4D">0.50</text>
<line x1="1504" y1="469.1" x2="1508.8" y2="469.1" stroke="#333333" stroke-width="1.9" stroke-linecap="butt"/>
<text x="1498.5" y="476.3" font-size="20" text-anchor="end" fill="#4D4D4D">0.50</text>
<line x1="1504" y1="142.9" x2="1508.8" y2="142.9" stroke="#333333" stroke-width="1.9" stroke-linecap="butt"/>
<text x="1498.5" y="150.1" font-size="20" text-anchor="end" fill="#4D4D4D">0.75</text>
<line x1="1504" y1="410.6" x2="1508.8" y2="410.6" stroke="#333333" stroke-width="1.9" stroke-linecap="butt"/>
<text x="1498.5" y="417.8" font-size="20" text-anchor="end" fill="#4D4D4D">0.75</text>
<line x1="1504" y1="84.4" x2="1508.8" y2="84.4" stroke="#333333" stroke-width="1.9" stroke-linecap="butt"/>
<text x="1498.5" y="91.6" font-size="20" text-anchor="end" fill="#4D4D4D">1.00</text>
<line x1="1504" y1="352.1" x2="1508.8" y2="352.1" stroke="#333333" stroke-width="1.9" stroke-linecap="butt"/>
<text x="1498.5" y="359.3" font-size="20" text-anchor="end" fill="#4D4D4D">1.00</text>
<line x1="1529" y1="597.8" x2="1529" y2="602.8" stroke="#333333" stroke-width="1.9" stroke-linecap="butt"/>
<text x="1529" y="621.6" font-size="20" text-anchor="middle" fill="#4D4D4D">-0.050</text>
<line x1="1630.9" y1="597.8" x2="1630.9" y2="602.8" stroke="#333333" stroke-width="1.9" stroke-linecap="butt"/>
<text x="1630.9" y="621.6" font-size="20" text-anchor="middle" fill="#4D4D4D">-0.025</text>
<line x1="1732.8" y1="597.8" x2="1732.8" y2="602.8" stroke="#333333" stroke-width="1.9" stroke-linecap="butt"/>
<text x="1732.8" y="621.6" font-size="20" text-anchor="middle" fill="#4D4D4D">0.000</text>
<line x1="1834.7" y1="597.8" x2="1834.7" y2="602.8" stroke="#333333" stroke-width="1.9" stroke-linecap="butt"/>
<text x="1834.7" y="621.6" font-size="20" text-anchor="middle" fill="#4D4D4D">0.025</text>
<line x1="1936.6" y1="597.8" x2="1936.6" y2="602.8" stroke="#333333" stroke-width="1.9" stroke-linecap="butt"/>
<text x="1936.6" y="621.6" font-size="20" text-anchor="middle" fill="#4D4D4D">0.050</text>
<text x="1733.8" y="644.5" font-size="20.5" text-anchor="middle" fill="#000" textLength="118.9" lengthAdjust="spacing">fitness effect</text>
<text x="1453" y="335.2" font-size="20.5" text-anchor="middle" fill="#000" textLength="80.7" lengthAdjust="spacing" transform="rotate(-90 1453 335.2)">cum. dist.</text>
<rect x="1958.3" y="73.4" width="32.2" height="256.1" fill="#fff" stroke="#000" stroke-width="2.8"/>
<rect x="1958.3" y="341.3" width="32.2" height="256" fill="#fff" stroke="#000" stroke-width="2.8"/>
<text x="1967.3" y="201" font-size="20" text-anchor="middle" fill="#000" textLength="83.6" lengthAdjust="spacing" transform="rotate(90 1967.3 201)">p53 ko.A</text>
<text x="1967.3" y="469" font-size="20" text-anchor="middle" fill="#000" textLength="83.6" lengthAdjust="spacing" transform="rotate(90 1967.3 469)">p53 ko.B</text>
<path d="M1509 318.8 C1518.3 318.6 1544.6 318.2 1564.7 317.6 C1584.8 317 1612.2 316.5 1629.4 315.3 C1646.7 314.1 1657.4 312.7 1668.2 310.5 C1679 308.3 1686.2 306.5 1694.1 302 C1702 297.5 1710.2 291.5 1715.7 283.5 C1721.2 275.5 1723.6 264.2 1727 254 C1730.4 243.8 1732.9 232.7 1736 222 C1739.1 211.3 1742.8 199.5 1745.5 190 C1748.2 180.5 1749.9 172.5 1752 165 C1754.1 157.5 1756 150.5 1758 145 C1760 139.5 1761.8 135.5 1764.2 132 C1766.6 128.5 1769 127 1772.3 124 C1775.6 121 1779.6 116.8 1784.3 113.8 C1789 110.8 1794.3 108.3 1800.3 106 C1806.2 103.7 1813.4 101.8 1820 99.8 C1826.6 97.8 1834.2 95.8 1840 94.3 C1845.8 92.8 1848.3 92.1 1855 91 C1861.7 89.9 1869.2 88.4 1880 87.5 C1890.8 86.6 1907.2 85.9 1920 85.4 C1932.8 84.9 1950.8 84.7 1957 84.6" fill="none" stroke="#8E44AD" stroke-width="6.5" stroke-linejoin="round"/>
<path d="M1509 318.8 C1518.3 318.6 1544.6 318 1564.7 317.3 C1584.8 316.6 1612.2 316 1629.4 314.7 C1646.7 313.4 1657.4 312 1668.2 309.7 C1679 307.4 1686.2 305.6 1694.1 301.1 C1702 296.6 1710.3 290.5 1715.7 282.8 C1721.1 275.1 1723.3 264.8 1726.5 254.7 C1729.7 244.6 1732 233.2 1735.1 222.4 C1738.1 211.6 1742.4 198.7 1744.8 190 C1747.2 181.3 1747.3 177.5 1749.2 170.2 C1751.1 162.9 1754.2 152.7 1756.2 146.2 C1758.2 139.7 1759.5 135.2 1761.2 131 C1762.9 126.8 1763.8 124.5 1766.3 121 C1768.8 117.5 1772.6 113.2 1776.3 110 C1780 106.8 1783.3 104.2 1788.3 102 C1793.3 99.8 1799.3 98.1 1806.3 96.5 C1813.3 94.9 1821.5 93.5 1830.4 92.3 C1839.4 91 1848.4 90 1860 89 C1871.6 88 1883.8 86.7 1900 86 C1916.2 85.3 1947.5 84.8 1957 84.6" fill="none" stroke="#00734E" stroke-width="6.5" stroke-linejoin="round"/>
<path d="M1509 586.1 C1518.3 585.8 1549.2 585.5 1564.7 584.5 C1580.2 583.5 1590.4 581.5 1601.7 580.3 C1613 579.1 1623.6 578.5 1632.3 577.1 C1641 575.7 1647.1 574.7 1653.9 572.1 C1660.7 569.5 1667.9 564.9 1673.3 561.3 C1678.7 557.7 1682.3 555.3 1686.3 550.6 C1690.2 545.9 1694.1 538.7 1697 533.3 C1699.9 527.9 1701 524.1 1703.7 518.2 C1706.4 512.3 1710.1 504 1712.9 497.9 C1715.7 491.8 1717.8 487.4 1720.3 481.3 C1722.8 475.2 1725.3 467.3 1727.9 461 C1730.5 454.7 1733.1 450.2 1736 443.5 C1738.9 436.8 1742.5 428.1 1745.5 421 C1748.5 413.9 1751.2 406.8 1754 401 C1756.8 395.2 1759.1 390.8 1762.1 386.1 C1765.1 381.4 1768.5 376.5 1772.2 373 C1775.9 369.5 1779.9 367.2 1784.2 365 C1788.5 362.8 1790.6 361.5 1798.2 360 C1805.8 358.5 1816.4 357.1 1830 356 C1843.6 354.9 1858.8 354.2 1880 353.6 C1901.2 353 1944.2 352.6 1957 352.4" fill="none" stroke="#8E44AD" stroke-width="6.5" stroke-linejoin="round"/>
<path d="M1509 586.2 C1518.3 586.1 1544.6 585.6 1564.7 585.3 C1584.8 585 1617.1 585.2 1629.4 584.4 C1641.7 583.6 1633.5 581.5 1638.6 580.7 C1643.7 579.9 1652 580.2 1660 579.7 C1668 579.2 1679.8 579.5 1686.3 577.5 C1692.8 575.5 1695.2 571.9 1699.2 567.8 C1703.2 563.7 1706.9 557.8 1710 552.7 C1713.1 547.6 1715 542.8 1718 537 C1721 531.2 1725 524.4 1727.7 518.2 C1730.4 512 1732.2 506.6 1734.2 499.8 C1736.2 493 1738.4 484.1 1739.7 477.6 C1741 471.1 1741 465.9 1741.8 461 C1742.6 456.1 1743.3 452.6 1744.3 448 C1745.3 443.4 1746.8 438.2 1748 433.3 C1749.2 428.4 1750.5 423.4 1751.7 418.5 C1752.9 413.6 1754.2 408.1 1755.4 403.7 C1756.6 399.3 1757.2 395.9 1759 392 C1760.8 388.1 1763.3 383 1766.2 380 C1769.1 377 1772.5 375.8 1776.2 374 C1779.9 372.2 1784.2 370.7 1788.2 369 C1792.2 367.3 1793 366 1800 364 C1807 362 1816.7 358.8 1830 357 C1843.3 355.2 1858.8 354.3 1880 353.5 C1901.2 352.7 1944.2 352.5 1957 352.3" fill="none" stroke="#00734E" stroke-width="6.5" stroke-linejoin="round"/>
</svg>
</body></html>
